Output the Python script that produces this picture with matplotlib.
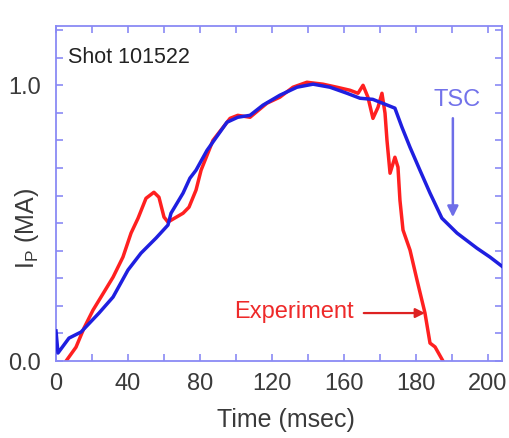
import matplotlib
matplotlib.use("Agg")
import matplotlib.pyplot as plt
from matplotlib.ticker import MultipleLocator

plt.rcParams['font.family'] = ['Liberation Sans', 'DejaVu Sans']
plt.rcParams['mathtext.fontset'] = 'custom'
plt.rcParams['mathtext.rm'] = 'Liberation Sans'

# TSC simulation (blue)
tsc_t = [0, 1.1, 7.2, 13.9, 23.9, 31.7, 40, 47.2, 55.6, 62.2, 63.9, 70.6, 74.4, 77.8,
         83.9, 95, 101, 107.8, 115, 124.4, 133.9, 142.8, 152.2, 161.7, 168.9, 176,
         188.3, 192.2, 196.7, 202.2, 207.8, 214.4, 222.8, 233.9, 241.1, 248.3]
tsc_i = [0.109, 0.029, 0.083, 0.105, 0.174, 0.232, 0.330, 0.391, 0.446, 0.493, 0.536,
         0.609, 0.663, 0.692, 0.764, 0.866, 0.884, 0.891, 0.928, 0.964, 0.993, 1.004,
         0.993, 0.971, 0.953, 0.949, 0.917, 0.848, 0.775, 0.692, 0.609, 0.518, 0.464,
         0.409, 0.377, 0.341]

# Experiment (red)
exp_t = [5.6, 11.1, 15.6, 20.6, 25, 31.7, 37.2, 41.7, 45.6, 50, 54.4, 57.2, 60, 62.2,
         70.6, 73.9, 77.8, 80.6, 87.2, 96.7, 101, 107.8, 117.2, 124.4, 131.7, 139.4,
         148.3, 156, 163.3, 167.8, 170.6, 173.3, 176.1, 178.9, 181.1, 182.8, 183.9,
         185.6, 188.3, 190, 191.1, 192.8, 196.7, 200.6, 205, 207.8, 210.6, 215]
exp_i = [0.0, 0.05, 0.12, 0.185, 0.232, 0.304, 0.377, 0.464, 0.518, 0.59, 0.612, 0.594,
         0.522, 0.504, 0.536, 0.558, 0.62, 0.692, 0.80, 0.880, 0.891, 0.884, 0.935,
         0.957, 0.993, 1.011, 1.004, 0.993, 0.982, 0.971, 1.0, 0.957, 0.880, 0.920,
         0.971, 0.899, 0.80, 0.681, 0.739, 0.703, 0.583, 0.475, 0.402, 0.293, 0.174,
         0.065, 0.051, 0.0]

xtick_pos = [0, 40, 80, 120, 160, 200, 240]
xtick_labels = ["0", "40", "80", "120", "160", "180", "200"]
ytick_pos = [0.0, 1.0]
ytick_labels = ["0.0", "1.0"]

W, H = 510, 438
fig = plt.figure(figsize=(W / 100, H / 100), dpi=100)
ax = fig.add_axes([56 / W, 1 - 361 / H, 446 / W, 335 / H])

red = '#ff2020'
blue = '#1f1fe0'
axcol = '#8a8af5'
txt = '#3a3a3a'

ax.plot(exp_t, exp_i, color=red, lw=2.5, solid_joinstyle='round', zorder=2)
ax.plot(tsc_t, tsc_i, color=blue, lw=2.5, solid_joinstyle='round', zorder=3)

ax.set_xlim(0, 247.8)
ax.set_ylim(0, 1.215)
ax.set_xticks(xtick_pos)
ax.set_xticklabels(xtick_labels)
ax.xaxis.set_minor_locator(MultipleLocator(20))
ax.set_yticks(ytick_pos)
ax.set_yticklabels(ytick_labels)
ax.yaxis.set_minor_locator(MultipleLocator(0.1))

for s in ax.spines.values():
    s.set_color(axcol)
    s.set_linewidth(1.3)
ax.tick_params(which='both', direction='in', top=True, right=True, color=axcol,
               width=1.2, labelcolor=txt, labelsize=17)
ax.tick_params(which='major', length=5)
ax.tick_params(which='minor', length=5)
ax.tick_params(axis='x', pad=9)
ax.tick_params(axis='y', pad=11)

ax.text(0.027, 0.905, "Shot 101522", transform=ax.transAxes, fontsize=15.5,
        color='#222222', va='center', ha='left')

# TSC label + arrow
ax.annotate("", xy=(220.5, (361 - 217) / 276), xytext=(220.5, (361 - 118) / 276),
            arrowprops=dict(arrowstyle='-|>', color='#6e6ee8', lw=1.8,
                            mutation_scale=16, shrinkA=0, shrinkB=0))
ax.text(223, (361 - 100) / 276, "TSC", color='#7272ea', fontsize=17,
        ha='center', va='center')

# Experiment label + arrow
ax.annotate("", xy=(205, (361 - 313) / 276), xytext=(171, (361 - 313) / 276),
            arrowprops=dict(arrowstyle='-|>', color='#dd2222', lw=1.6,
                            mutation_scale=14, shrinkA=0, shrinkB=0))
ax.text((294 - 56) * 0.5556, (361 - 312) / 276, "Experiment", color='#ee2a2a',
        fontsize=17, ha='center', va='center')

fig.text(286 / W, 1 - 420 / H, "Time (msec)", fontsize=18, color=txt,
         ha='center', va='center')
fig.text(27 / W, 1 - 228 / H, r"I$_\mathrm{P}$ (MA)", fontsize=18, color=txt,
         ha='center', va='center', rotation=90)

fig.savefig("out.png", dpi=100)
